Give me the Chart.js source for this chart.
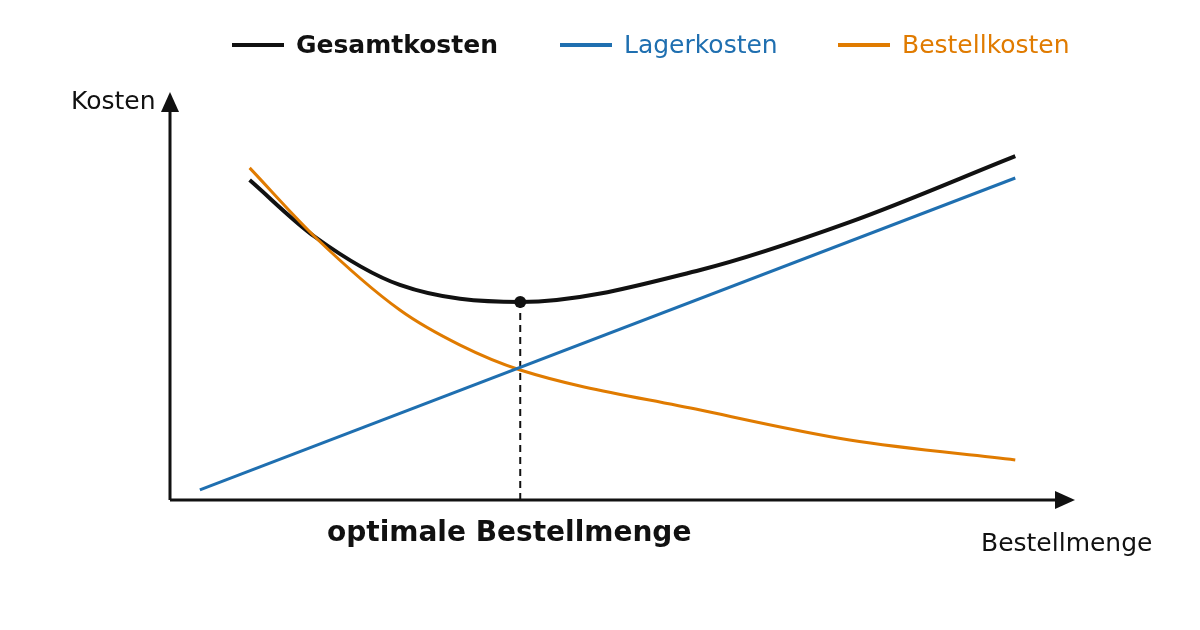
<!DOCTYPE html>
<html><head><meta charset="utf-8">
<script src="https://cdn.jsdelivr.net/npm/chart.js@4"></script>
<style>
body{margin:0;width:1200px;height:630px;background:#fff;font-family:"DejaVu Sans",sans-serif;position:relative;overflow:hidden}
canvas{position:absolute;left:0;top:0}
.t{position:absolute;font-size:25px;white-space:nowrap}
.leg{position:absolute;top:30px;font-size:25px;display:flex;align-items:center}
.leg i{display:inline-block;width:52px;height:4px;margin-right:12px}
</style></head><body>
<canvas id="c" width="1200" height="630"></canvas>
<div class="leg" style="left:232px;color:#111;font-weight:bold"><i style="background:#111"></i>Gesamtkosten</div>
<div class="leg" style="left:560px;color:#1f6fb0"><i style="background:#1f6fb0"></i>Lagerkosten</div>
<div class="leg" style="left:838px;color:#e07b00"><i style="background:#e07b00"></i>Bestellkosten</div>
<div class="t" style="left:71px;top:86px;color:#111">Kosten</div>
<div class="t" style="left:981px;top:528px;color:#111">Bestellmenge</div>
<div class="t" style="left:327px;top:515px;color:#111;font-weight:bold;font-size:28px">optimale Bestellmenge</div>
<script>
const lagerX = [3.3, 93.4];
const lagerY = [2.5, 79.5];
const bestellX = [8.8, 16, 25.4, 32, 38.7, 58.6, 75.1, 93.4];
const bestellY = [82, 65, 46.9, 38.3, 32.1, 22.2, 14.8, 9.9];
const gesamtX = [8.8, 16, 25.4, 38.7, 58.6, 75.1, 93.4];
const gesamtY = [79, 65, 53.1, 48.9, 56.8, 68.6, 84.9];
const optX = 38.7, optY = 48.9;

const pts = (xs, ys) => xs.map((x, i) => ({x, y: ys[i]}));

const axes = {
  id: 'axes',
  beforeDatasetsDraw(chart) {
    const {ctx, chartArea: a} = chart;
    ctx.save();
    ctx.strokeStyle = '#111'; ctx.fillStyle = '#111'; ctx.lineWidth = 3;
    ctx.beginPath();
    ctx.moveTo(a.left, a.bottom); ctx.lineTo(a.left, a.top + 10);
    ctx.moveTo(a.left, a.bottom); ctx.lineTo(a.right - 10, a.bottom);
    ctx.stroke();
    ctx.beginPath();
    ctx.moveTo(a.left, a.top - 3); ctx.lineTo(a.left - 9, a.top + 17); ctx.lineTo(a.left + 9, a.top + 17); ctx.fill();
    ctx.beginPath();
    ctx.moveTo(a.right, a.bottom); ctx.lineTo(a.right - 20, a.bottom - 9); ctx.lineTo(a.right - 20, a.bottom + 9); ctx.fill();
    ctx.restore();
  }
};

new Chart(document.getElementById('c'), {
  type: 'line',
  data: {
    datasets: [
      {data: pts(lagerX, lagerY), borderColor: '#1f6fb0', borderWidth: 3, pointRadius: 0},
      {data: pts(bestellX, bestellY), borderColor: '#e07b00', borderWidth: 3, pointRadius: 0, cubicInterpolationMode: 'monotone'},
      {data: pts(gesamtX, gesamtY), borderColor: '#111', borderWidth: 4, pointRadius: 0, cubicInterpolationMode: 'monotone'},
      {data: [{x: optX, y: 0}, {x: optX, y: optY}], borderColor: '#111', borderWidth: 2, borderDash: [7, 5], pointRadius: [0, 6], pointBackgroundColor: '#111', pointBorderWidth: 0}
    ]
  },
  options: {
    responsive: false, animation: false,
    layout: {padding: {left: 170, right: 125, top: 95, bottom: 130}},
    plugins: {legend: {display: false}, tooltip: {enabled: false}},
    scales: {
      x: {type: 'linear', min: 0, max: 100, display: false},
      y: {min: 0, max: 100, display: false}
    }
  },
  plugins: [axes]
});
</script>
</body></html>
